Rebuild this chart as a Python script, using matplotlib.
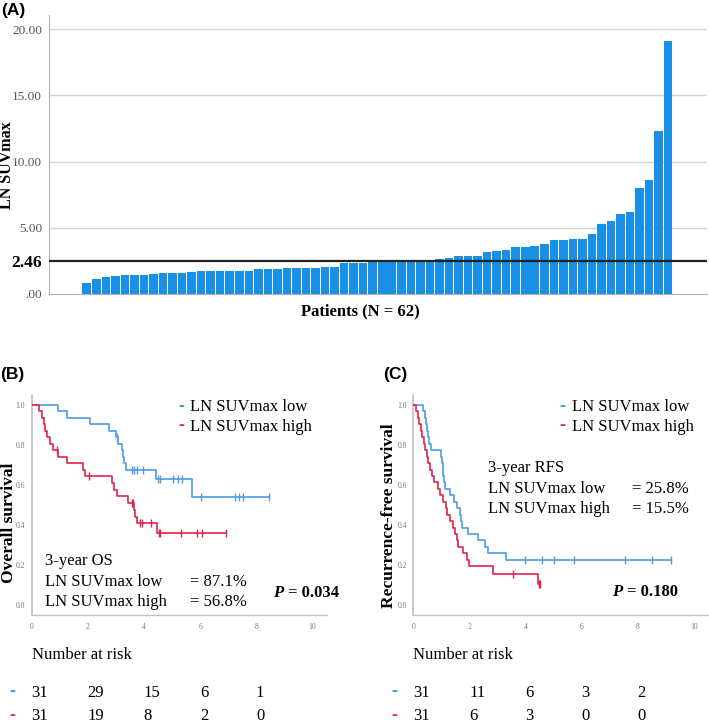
import numpy as np
import matplotlib
matplotlib.use("Agg")
import matplotlib.pyplot as plt

# ---------------- DATA ----------------
suv_values = [0.86, 1.11, 1.31, 1.33, 1.43, 1.43, 1.46, 1.53, 1.56, 1.56, 1.56,
              1.69, 1.74, 1.74, 1.76, 1.76, 1.76, 1.76, 1.86, 1.86, 1.86,
              1.96, 1.99, 1.99, 1.99, 2.04, 2.04, 2.31, 2.31, 2.36, 2.40,
              2.44, 2.46, 2.46, 2.47, 2.54, 2.54, 2.64, 2.74, 2.87, 2.87,
              2.87, 3.17, 3.22, 3.32, 3.57, 3.57, 3.60, 3.80, 4.05, 4.05,
              4.18, 4.18, 4.50, 5.31, 5.48, 6.01, 6.16, 8.03, 8.60, 12.30, 19.12]
cutoff = 2.46
a_ticks = [0, 5, 10, 15, 20]
a_ticklabels = [".00", "5.00", "10.00", "15.00", "20.00"]

# Overall survival (B)
os_low_t = [0.94, 1.28, 2.07, 2.76, 3.02, 3.08, 3.22, 3.27, 3.30, 3.37, 4.43, 5.73]
os_low_s = [0.968, 0.935, 0.903, 0.871, 0.839, 0.806, 0.774, 0.742, 0.710, 0.677, 0.630, 0.540]
os_low_cens = [3.05, 3.58, 3.65, 3.74, 3.97, 4.51, 4.57, 5.04, 5.20, 5.37, 6.05, 7.24, 7.39, 7.54, 8.46]
os_high_t = [0.26, 0.37, 0.45, 0.49, 0.56, 0.65, 0.77, 0.95, 1.28, 1.84, 1.92, 2.88, 2.94,
             3.06, 3.42, 3.65, 3.70, 3.76, 4.45]
os_high_s = [0.968, 0.935, 0.903, 0.871, 0.839, 0.806, 0.774, 0.742, 0.710, 0.677, 0.645,
             0.611, 0.577, 0.543, 0.509, 0.475, 0.441, 0.410, 0.360]
os_high_cens = [0.89, 2.05, 3.56, 3.62, 3.86, 3.92, 4.27, 4.55, 4.59, 5.32, 5.88, 6.06, 6.91]

# Recurrence-free survival (C)
rfs_low_t = [0.36, 0.40, 0.44, 0.48, 0.51, 0.56, 0.62, 0.99, 1.03, 1.05, 1.07, 1.09, 1.13,
             1.31, 1.45, 1.54, 1.66, 1.70, 1.72, 1.96, 2.31, 2.55, 2.65, 3.29]
rfs_low_s = [0.968, 0.935, 0.903, 0.871, 0.839, 0.806, 0.774, 0.742, 0.710, 0.677, 0.645,
             0.613, 0.581, 0.548, 0.516, 0.484, 0.452, 0.419, 0.387, 0.355, 0.323, 0.290,
             0.258, 0.226]
rfs_low_cens = [3.97, 4.59, 5.02, 5.72, 7.53, 8.48, 9.19]
rfs_high_t = [0.10, 0.15, 0.21, 0.26, 0.32, 0.38, 0.43, 0.48, 0.53, 0.59, 0.68, 0.74, 0.89,
              0.95, 1.07, 1.15, 1.19, 1.31, 1.40, 1.48, 1.55, 1.60, 1.78, 1.92, 1.99, 2.83, 4.43]
rfs_high_s = [0.968, 0.935, 0.903, 0.871, 0.839, 0.806, 0.774, 0.742, 0.710, 0.677, 0.645,
              0.613, 0.581, 0.548, 0.516, 0.484, 0.452, 0.419, 0.387, 0.355, 0.323, 0.290,
              0.258, 0.226, 0.194, 0.155, 0.103]
rfs_high_cens = [3.54, 4.46, 4.50]

risk_times = [0, 2, 4, 6, 8]
os_risk_low = [31, 29, 15, 6, 1]
os_risk_high = [31, 19, 8, 2, 0]
rfs_risk_low = [31, 11, 6, 3, 2]
rfs_risk_high = [31, 6, 3, 0, 0]

# ---------------- STYLE ----------------
W, H = 709, 725
SERIF = ["Liberation Serif", "DejaVu Serif"]
SANS = ["Liberation Sans", "DejaVu Sans"]
BAR = "#1a8fe6"
BLUE = "#4f9be8"
RED = "#e3224a"
BLUE_D = "#1fa3ea"
RED_D = "#f0283c"
GRAY = "#555555"

fig = plt.figure(figsize=(W / 100, H / 100), dpi=100)


def fx(px):
    return px / W


def fy(py):
    return 1 - py / H


# ---------------- PANEL A ----------------
axA = fig.add_axes([fx(49), fy(294), fx(707) - fx(49), fy(15) - fy(294)])
idx = np.arange(len(suv_values))
axA.bar(idx, suv_values, width=0.9, color=BAR, zorder=3)
axA.set_xlim(-3.96, 65.07)
axA.set_ylim(0, 21.06)
axA.set_yticks(a_ticks + [cutoff])
axA.set_yticklabels(a_ticklabels + [f"{cutoff:.2f}"])
for lab in axA.get_yticklabels():
    lab.set_family(SERIF)
    if lab.get_text() == f"{cutoff:.2f}":
        lab.set_fontweight("bold")
        lab.set_fontsize(12.5)
        lab.set_color("black")
    else:
        lab.set_fontsize(9.5)
        lab.set_color(GRAY)
axA.set_xticks([])
axA.tick_params(axis="y", length=0, pad=5)
for t in a_ticks[1:]:
    axA.axhline(t, color="#d4d4d4", lw=1.0, zorder=1)
axA.axhline(cutoff, color="#222222", lw=1.6, zorder=4)
for s in ["top", "right"]:
    axA.spines[s].set_visible(False)
axA.spines["left"].set_color("#b0b0b0")
axA.spines["bottom"].set_color("#b0b0b0")
axA.set_ylabel("LN SUVmax", family=SERIF, fontweight="bold", fontsize=11.5)
axA.yaxis.set_label_coords(-0.052, 0.46)
fig.text(fx(360), fy(311), "Patients (N = 62)", family=SERIF, fontweight="bold",
         fontsize=12, ha="center", va="center")
fig.text(fx(1), fy(10), "(A)", family=SANS, fontweight="bold", fontsize=12.5,
         ha="left", va="center")


# ---------------- KM helper ----------------
def km(ax, times, surv, cens, color, end):
    t = [0.0] + list(times)
    s = [1.0] + list(surv)
    tend = max(end, t[-1])
    t.append(tend)
    s.append(s[-1])
    ax.step(t, s, where="post", color=color, lw=1.2, zorder=3)
    tt = np.asarray(times)
    ss = np.asarray(surv)
    cs = []
    for c in cens:
        k = np.searchsorted(tt, c, side="right")
        cs.append(1.0 if k == 0 else ss[k - 1])
    ax.plot(cens, cs, linestyle="none", marker="|", ms=6, mew=1.0, color=color, zorder=4)


def km_axes(left_px, ylabel):
    ax = fig.add_axes([fx(left_px), fy(615), fx(295), fy(395) - fy(615)])
    ax.set_xlim(0, 10.5)
    ax.set_ylim(-0.05, 1.05)
    ax.set_xticks([0, 2, 4, 6, 8, 10])
    ax.set_yticks([0, 0.2, 0.4, 0.6, 0.8, 1.0])
    ax.set_yticklabels(["0.0", "0.2", "0.4", "0.6", "0.8", "1.0"])
    ax.tick_params(length=0, labelsize=5.5, labelcolor="#777777")
    ax.tick_params(axis="x", pad=6)
    ax.tick_params(axis="y", pad=4.5)
    for lab in ax.get_xticklabels() + ax.get_yticklabels():
        lab.set_family(SERIF)
    for s in ["top", "right"]:
        ax.spines[s].set_visible(False)
    ax.spines["left"].set_color("#c0c0c0")
    ax.spines["bottom"].set_color("#c0c0c0")
    ax.spines["left"].set_linewidth(1.2)
    ax.spines["bottom"].set_linewidth(1.0)
    ax.set_ylabel(ylabel, family=SERIF, fontweight="bold", fontsize=12.5)
    return ax


# ---------------- PANEL B ----------------
axB = km_axes(31.5, "Overall survival")
axB.yaxis.set_label_coords(-0.049, 0.42)
km(axB, os_low_t, os_low_s, os_low_cens, BLUE, 8.46)
km(axB, os_high_t, os_high_s, os_high_cens, RED, 6.91)
fig.text(fx(0), fy(375), "(B)", family=SANS, fontweight="bold", fontsize=12.5, va="center")

# ---------------- PANEL C ----------------
axC = km_axes(413.3, "Recurrence-free survival")
axC.yaxis.set_label_coords(-0.055, 0.45)
km(axC, rfs_low_t, rfs_low_s, rfs_low_cens, BLUE, 9.19)
km(axC, rfs_high_t, rfs_high_s, rfs_high_cens, RED, 4.50)
fig.text(fx(383), fy(375), "(C)", family=SANS, fontweight="bold", fontsize=12.5, va="center")

FS = 12


def txt(x, y, s, **kw):
    kw.setdefault("family", SERIF)
    kw.setdefault("fontsize", FS)
    kw.setdefault("va", "center")
    fig.text(fx(x), fy(y), s, **kw)


def dash(x, y, color):
    txt(x, y, "-", color=color, fontweight="bold", fontsize=13)


# legends
for lx, tx in [(178, 190), (559, 572)]:
    dash(lx, 406, BLUE_D)
    txt(tx, 407, "LN SUVmax low")
    dash(lx, 426, RED_D)
    txt(tx, 427, "LN SUVmax high")

# annotations B
txt(45, 561, "3-year OS")
txt(45, 582, "LN SUVmax low")
txt(190, 582, "= 87.1%")
txt(45, 602, "LN SUVmax high")
txt(190, 602, "= 56.8%")
txt(273, 593, "P", fontweight="bold", style="italic")
txt(288, 593, "= 0.034", fontweight="bold")

# annotations C
txt(488, 468, "3-year RFS")
txt(488, 489, "LN SUVmax low")
txt(632, 489, "= 25.8%")
txt(488, 509, "LN SUVmax high")
txt(632, 509, "= 15.5%")
txt(612, 592, "P", fontweight="bold", style="italic")
txt(627, 592, "= 0.180", fontweight="bold")

# number at risk
for x0, low, high in [(31.5, os_risk_low, os_risk_high), (413.3, rfs_risk_low, rfs_risk_high)]:
    txt(x0, 655, "Number at risk")
    dash(x0 - 22, 692, BLUE_D)
    dash(x0 - 22, 715, RED_D)
    for t, a, b in zip(risk_times, low, high):
        px = x0 + t * 28.05
        txt(px, 693, str(a), ha="left")
        txt(px, 716, str(b), ha="left")

fig.savefig("out.png", dpi=100)
